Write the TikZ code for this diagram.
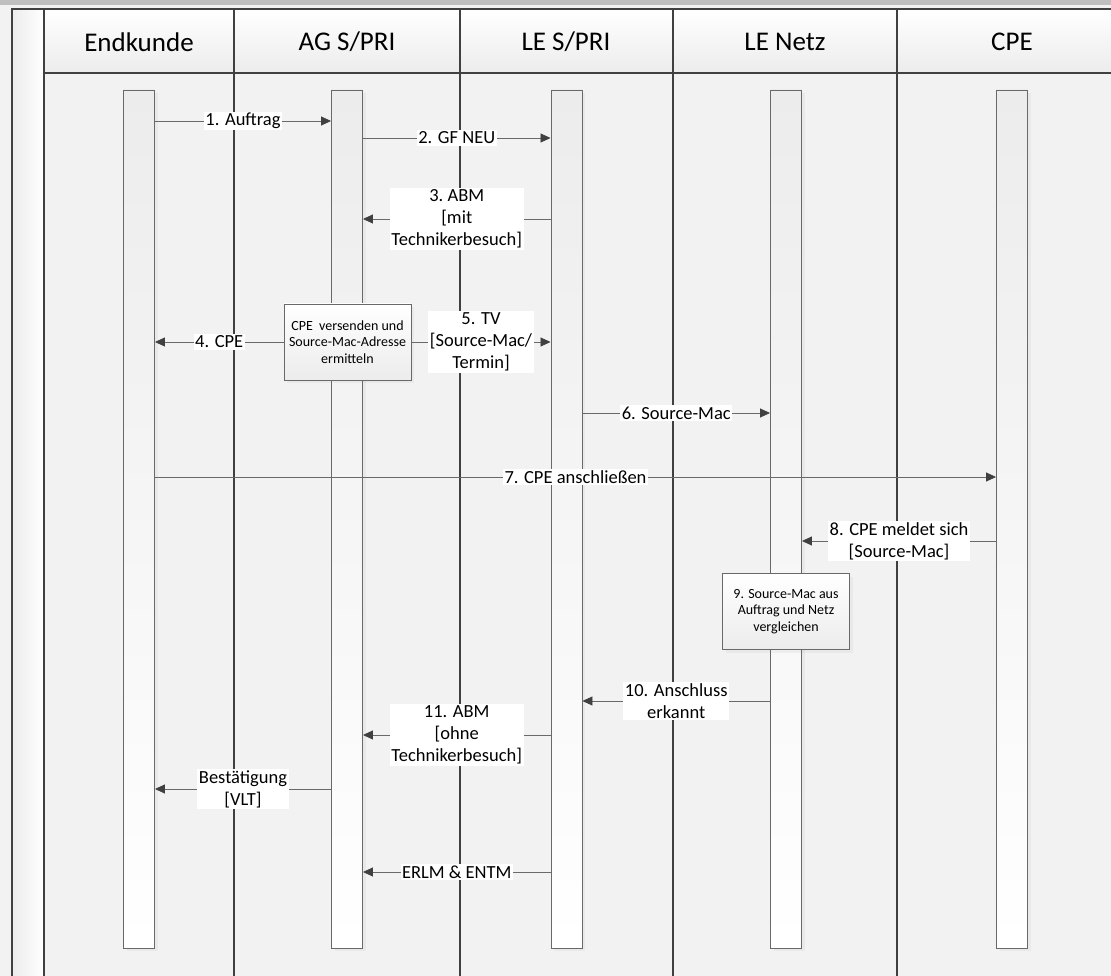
\documentclass[tikz,border=0pt]{standalone}
\usepackage{fontspec}
\setmainfont{Carlito}
\definecolor{sdframe}{RGB}{64,64,64}
\definecolor{sdline}{RGB}{105,105,105}
\definecolor{sdhead}{RGB}{64,64,64}
\definecolor{sdback}{RGB}{242,242,242}
\definecolor{sdbar}{RGB}{191,191,191}
\definecolor{sdlife}{RGB}{236,236,236}
\usetikzlibrary{arrows.meta,shadows}
\tikzset{
  lane/.style={draw=sdframe, line width=1.3pt},
  lanehead/.style={font=\fontsize{27}{31}\selectfont},
  life/.style={draw=sdline, line width=0.9pt, top color=sdlife, bottom color=white, minimum width=31pt, minimum height=858pt, inner sep=0pt, drop shadow={shadow xshift=3pt, shadow yshift=-3pt, opacity=0.08}},
  msg/.style={draw=sdline, line width=0.8pt, -{Triangle[length=10pt,width=9pt,color=sdhead]}},
  lbl/.style={fill=white, inner sep=1.5pt, align=center, font=\fontsize{18.5}{22}\selectfont},
  proc/.style={draw=sdline, line width=0.9pt, top color=white, bottom color=sdlife, minimum width=127pt, minimum height=76pt, inner sep=2pt, align=center, font=\fontsize{14}{16.5}\selectfont, drop shadow={shadow xshift=3pt, shadow yshift=-3pt, opacity=0.08}}
}
\begin{document}
\begin{tikzpicture}[x=1pt, y=-1pt]
  \useasboundingbox (0,0) rectangle (1111,976);

  %% Frame and swimlanes
  \fill[sdback] (0,0) rectangle (1111,976);
  \fill[sdbar] (0,0) rectangle (1111,5);
  \shade[left color=sdlife, right color=white] (12,9) rectangle (44,976);
  \shade[top color=white, bottom color=sdlife] (44,9) rectangle (1111,73);
  \draw[lane] (1111,9) -- (12,9) -- (12,976);
  \draw[lane] (44,73) -- (1111,73);
  \foreach \x in {44,234,460,673,897}
    \draw[lane] (\x,9) -- (\x,976);

  %% Lane headers
  \node[lanehead] (hek) at (139,42) {Endkunde};
  \node[lanehead] (hag) at (347,42) {AG S/PRI};
  \node[lanehead] (hles) at (566,42) {LE S/PRI};
  \node[lanehead] (hlen) at (785,42) {LE Netz};
  \node[lanehead] (hcpe) at (1012,42) {CPE};

  %% Lifelines
  \node[life] (ek) at (139,519) {};
  \node[life] (ag) at (347,519) {};
  \node[life] (les) at (566.5,519) {};
  \node[life] (len) at (786,519) {};
  \node[life] (cpe) at (1012,519) {};

  %% Activities
  \node[proc] (ship) at (347.5,342) {CPE\ \ versenden und\\Source-Mac-Adresse\\ermitteln};
  \node[proc] (cmp) at (786,611.5) {9. Source-Mac aus\\Auftrag und Netz\\vergleichen};

  %% Messages
  \draw[msg] (ek.east |- 0,121) -- node[lbl] {1. Auftrag} (ag.west |- 0,121);
  \draw[msg] (ag.east |- 0,138) -- node[lbl] {2. GF NEU} (les.west |- 0,138);
  \draw[msg] (les.west |- 0,219) -- node[lbl] {3.\ ABM\\{[}mit\\Technikerbesuch]} (ag.east |- 0,219);
  \draw[msg] (ship.west) -- node[lbl] {4. CPE} (ek.east |- ship.west);
  \draw[msg] (ship.east) -- node[lbl] {5. TV\\{[}Source-Mac/\\Termin]} (les.west |- ship.east);
  \draw[msg] (les.east |- 0,413) -- node[lbl] {6. Source-Mac} (len.west |- 0,413);
  \draw[msg] (ek.east |- 0,477) -- node[lbl] {7. CPE anschließen} (cpe.west |- 0,477);
  \draw[msg] (cpe.west |- 0,541) -- node[lbl] {8. CPE meldet sich\\{[}Source-Mac]} (len.east |- 0,541);
  \draw[msg] (len.west |- 0,701) -- node[lbl] {10. Anschluss\\erkannt} (les.east |- 0,701);
  \draw[msg] (les.west |- 0,735) -- node[lbl] {11. ABM\\{[}ohne\\Technikerbesuch]} (ag.east |- 0,735);
  \draw[msg] (ag.west |- 0,789) -- node[lbl] {Bestätigung\\{[}VLT]} (ek.east |- 0,789);
  \draw[msg] (les.west |- 0,872) -- node[lbl] {ERLM \& ENTM} (ag.east |- 0,872);
\end{tikzpicture}
\end{document}
